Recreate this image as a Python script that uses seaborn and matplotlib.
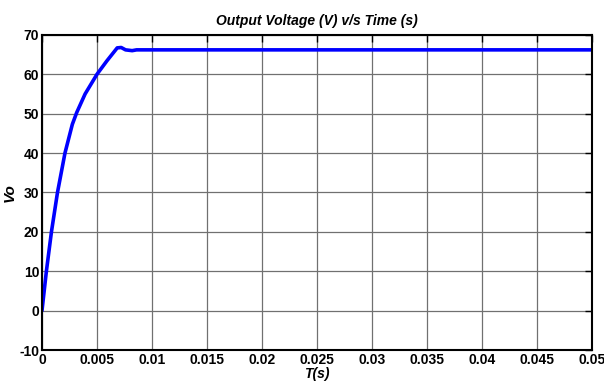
import matplotlib
matplotlib.use("Agg")
import matplotlib.pyplot as plt
import seaborn as sns
import pandas as pd

time_s = [0.0, 0.0004, 0.00086, 0.00141, 0.00209, 0.00276, 0.00316, 0.00392,
          0.005, 0.0059, 0.00684, 0.0072, 0.0076, 0.0082, 0.0086, 0.02, 0.035, 0.05]
vo = [0.0, 10.0, 20.0, 30.0, 40.0, 47.3, 50.3, 55.0,
      60.0, 63.4, 66.7, 66.8, 66.2, 66.0, 66.2, 66.2, 66.2, 66.2]

x_ticks = [0, 0.005, 0.01, 0.015, 0.02, 0.025, 0.03, 0.035, 0.04, 0.045, 0.05]
x_tick_labels = ["0", "0.005", "0.01", "0.015", "0.02", "0.025", "0.03",
                 "0.035", "0.04", "0.045", "0.05"]
y_ticks = [-10, 0, 10, 20, 30, 40, 50, 60, 70]

df = pd.DataFrame({"t": time_s, "vo": vo})

sns.set_style("white")
plt.rcParams["font.family"] = ["Liberation Sans Narrow", "Liberation Sans", "DejaVu Sans"]
plt.rcParams["axes.unicode_minus"] = False
plt.rcParams["text.color"] = "black"
plt.rcParams["axes.labelcolor"] = "black"

fig = plt.figure(figsize=(6.04, 3.92), dpi=100)
ax = fig.add_axes([0.0695, 0.107, 0.9105, 0.804])

sns.lineplot(data=df, x="t", y="vo", ax=ax, color="#0000ff", linewidth=2.6,
             estimator=None, sort=False)

ax.set_xlim(0, 0.05)
ax.set_ylim(-10, 70)
ax.set_xticks(x_ticks)
ax.set_xticklabels(x_tick_labels)
ax.set_yticks(y_ticks)
ax.grid(True, color="#707070", linewidth=0.9)
ax.set_axisbelow(True)
for s in ax.spines.values():
    s.set_visible(True)
    s.set_color("black")
    s.set_linewidth(1.5)
ax.tick_params(direction="in", length=5, width=1, top=True, right=True,
               labelsize=10, pad=2, colors="black")
for lab in ax.get_xticklabels() + ax.get_yticklabels():
    lab.set_fontweight("bold")

ax.set_title("Output Voltage (V) v/s Time (s)", fontsize=10, fontweight="bold",
             style="italic", pad=7, color="black")
ax.set_xlabel("T(s)", fontsize=10, fontweight="bold", style="italic", labelpad=0)
ax.set_ylabel("Vo", fontsize=11, fontweight="bold", style="italic", labelpad=2)

fig.savefig("out.png", dpi=100)
